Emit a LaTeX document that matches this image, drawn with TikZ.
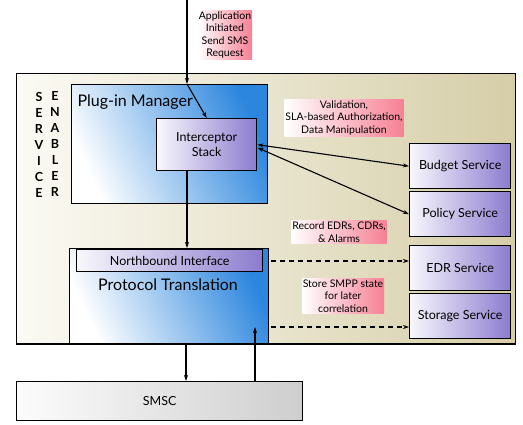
\documentclass[tikz,border=0pt]{standalone}
\usepackage{fontspec}
\setmainfont{Lato}
\usepackage{xcolor}
\usetikzlibrary{arrows.meta,positioning,calc}
\definecolor{tan}{RGB}{214,206,168}
\definecolor{cream}{RGB}{251,250,244}
\definecolor{pimblue}{RGB}{44,134,222}
\definecolor{svcpurple}{RGB}{140,124,206}
\definecolor{notepink}{RGB}{246,128,148}
\definecolor{smscgray}{RGB}{206,206,206}

\begin{document}
\begin{tikzpicture}[x=1pt,y=-1pt,
    box/.style={rectangle,draw,line width=1.4pt,inner sep=0pt,anchor=north west},
    enb/.style={box,left color=cream,right color=tan},
    pim/.style={box,left color=white,right color=pimblue,shading angle=115},
    svc/.style={box,left color=white!94!svcpurple,right color=svcpurple,
      minimum width=101pt,minimum height=45pt,font=\fontsize{12.5}{14}\selectfont},
    note/.style={rectangle,inner sep=1pt,align=center,left color=white,right color=notepink,
      font=\fontsize{10.5}{12.5}\selectfont},
    flow/.style={-{Stealth[length=6pt,width=4pt]},line width=1.1pt},
    both/.style={{Stealth[length=6pt,width=4pt]}-{Stealth[length=6pt,width=4pt]},line width=1.1pt},
    store/.style={flow,line width=1.3pt,dash pattern=on 5pt off 4pt}]
\useasboundingbox (0,0) rectangle (523,425);
% service enabler frame
\node[enb,minimum width=499pt,minimum height=270pt] (se) at (16,73) {};
\node[font=\bfseries\fontsize{12.5}{16}\selectfont,align=center] (sv) at (39,145) {S\\E\\R\\V\\I\\C\\E};
\node[font=\bfseries\fontsize{12.5}{16}\selectfont,align=center] (en) at (55,143.5) {E\\N\\A\\B\\L\\E\\R};
% plug-in manager with interceptor stack
\node[pim,minimum width=196pt,minimum height=119pt] (pm) at (71,84) {};
\node[anchor=west,font=\fontsize{16}{18}\selectfont] (pml) at (74,102) {Plug-in Manager};
\node[box,left color=white!94!svcpurple,right color=svcpurple,minimum width=100pt,minimum height=52pt,
  align=center,font=\fontsize{12.5}{15}\selectfont] (ics) at (156,118) {Interceptor\\Stack};
% protocol translation
\node[pim,minimum width=199pt,minimum height=95pt] (pt) at (69,248) {};
\node[box,left color=white!94!svcpurple,right color=svcpurple,minimum width=186pt,minimum height=22pt,
  font=\fontsize{12.5}{14}\selectfont] (nbi) at (76,249) {Northbound Interface};
\node[font=\fontsize{16}{18}\selectfont] (ptl) at (168,285) {Protocol Translation};
\draw[line width=1.4pt] (se.south west) -- (se.south east);
% services
\foreach \n/\t/\y in {budget/Budget Service/143,policy/Policy Service/191,
                      edr/EDR Service/245,storage/Storage Service/293}
  \node[svc] (\n) at (409,\y) {\t};
% smsc
\node[box,left color=white!94!smscgray,right color=smscgray,minimum width=286pt,minimum height=39pt,
  font=\fontsize{12.5}{14}\selectfont] (smsc) at (16,381) {SMSC};
% notes
\node[note] (req) at (225,35) {Application\\Initiated\\Send SMS\\Request};
\node[note] (val) at (344,118) {Validation,\\SLA-based Authorization,\\Data Manipulation};
\node[note] (rec) at (339,232) {Record EDRs, CDRs,\\\& Alarms};
\node[note] (smpp) at (343,296) {Store SMPP state\\for later\\correlation};
% request path
\coordinate (in) at (187,0);
\coordinate (pmin) at (pm.north -| in);
\draw[flow] (in) -- (pmin);
\draw[flow] (pmin) -- (ics.north);
\draw[flow] (ics.south -| in) -- (pt.north -| in);
\draw[both] (ics.east) -- (budget.west);
\draw[both] ($(ics.east)+(0,3)$) -- (policy.west);
% records and state
\coordinate (edrout) at (271,261);
\coordinate (stout) at (271,327);
\draw[store] (edrout) -- (edrout -| edr.west);
\draw[store] (stout) -- (stout -| storage.west);
% to and from smsc
\coordinate (dn) at (186,343);
\coordinate (up) at (255,327);
\draw[flow] (dn) -- (smsc.north -| dn);
\draw[flow] (smsc.north -| up) -- (up);
\end{tikzpicture}
\end{document}
